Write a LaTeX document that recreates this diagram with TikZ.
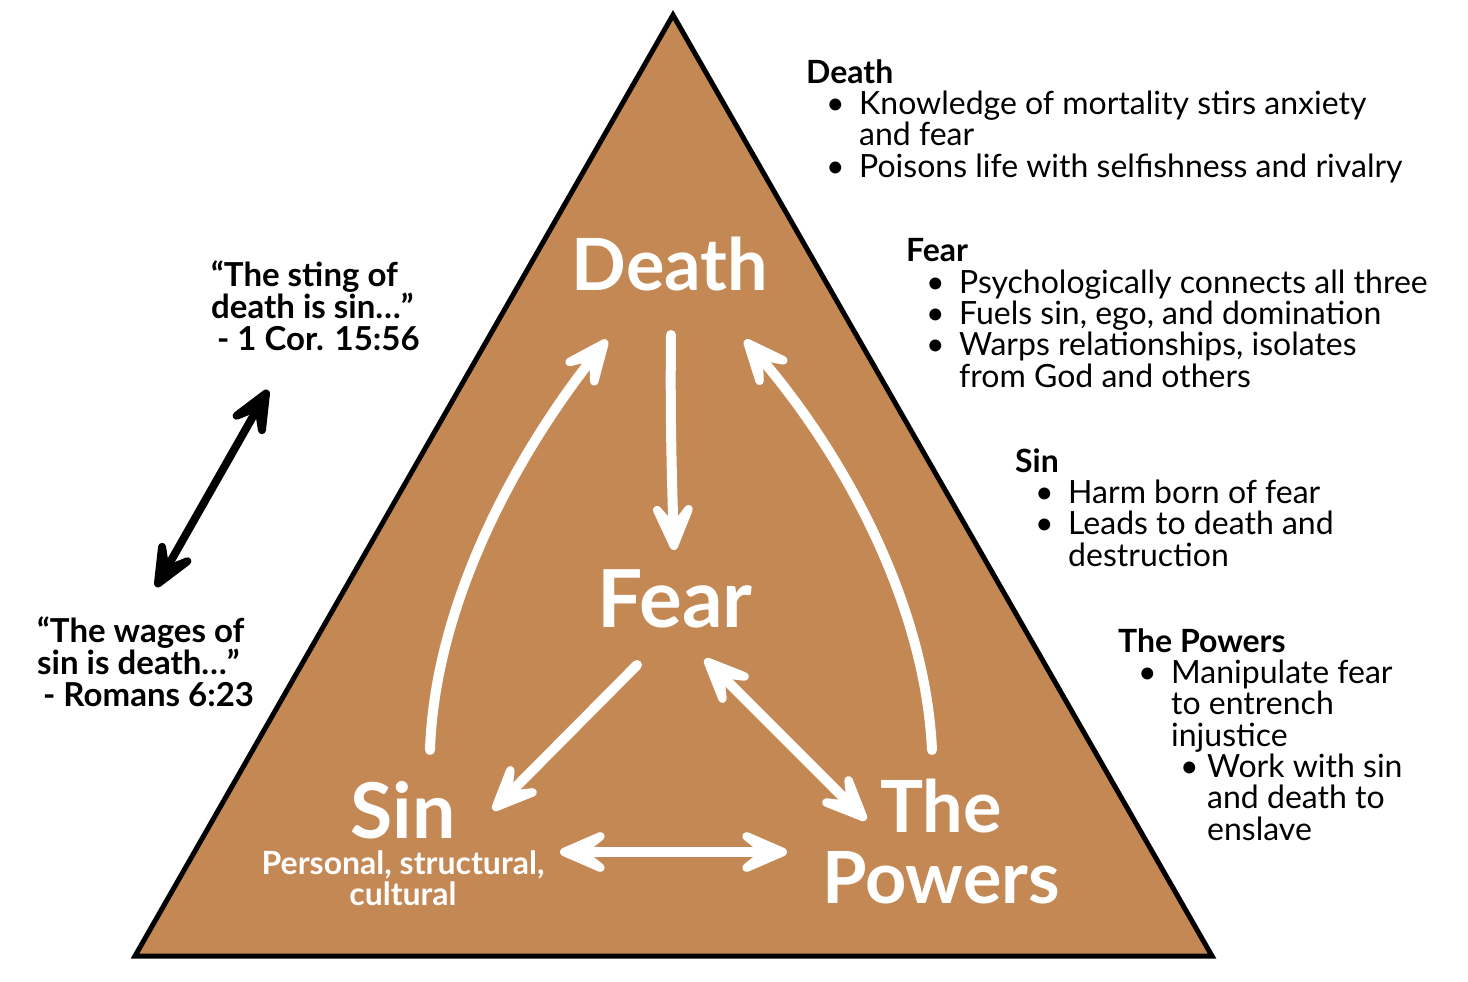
\documentclass[tikz,border=0pt]{standalone}
\usepackage{fontspec}
\setmainfont{Lato}
\usetikzlibrary{arrows.meta}
\definecolor{tri}{RGB}{196,136,84}
\newcommand\myb{\hspace*{20pt}\makebox[33pt][l]{•}}
\newcommand\myc{\hspace*{53pt}}
\newcommand\mysb{\hspace*{62pt}\makebox[27pt][l]{•}}
\newcommand\mysc{\hspace*{89pt}}
\begin{document}
\begin{tikzpicture}[x=1pt,y=-1pt,
  big/.style={font=\fontsize{72}{71}\selectfont\bfseries, text=white, inner sep=0, align=center, anchor=base},
  sub/.style={font=\fontsize{32}{30.5}\selectfont\bfseries, text=white, inner sep=0, align=center, anchor=base},
  info/.style={font=\fontsize{32}{31.3}\selectfont, anchor=base west, inner sep=0, align=left},
  quote/.style={font=\fontsize{33}{31.3}\selectfont\bfseries, anchor=base west, inner sep=0, align=left},
  warrow/.style={draw=white, line width=10pt, line cap=round,
    arrows={-Stealth[length=74pt,width=64pt,inset=40pt,round]}},
  wdouble/.style={draw=white, line width=10pt,
    arrows={Stealth[length=74pt,width=64pt,inset=40pt,round]-Stealth[length=74pt,width=64pt,inset=40pt,round]}},
  barrow/.style={draw=black, line width=8pt,
    arrows={Stealth[length=70pt,width=60pt,inset=38pt,round]-Stealth[length=70pt,width=60pt,inset=38pt,round]}}]
\useasboundingbox (0,0) rectangle (1468,982);
% triangle
\draw[fill=tri, line width=5pt, line join=miter] (673,15) -- (1212,956) -- (135,956) -- cycle;
% main labels
\node[big] (death) at (670,290) {Death};
\node[big, font=\fontsize{80}{80}\selectfont\bfseries] (fear) at (675,627) {Fear};
\node[big, font=\fontsize{77}{77}\selectfont\bfseries] (sin) at (403,838) {Sin};
\node[sub] (sinsub) at (403,905) {Personal, structural,\\cultural};
\node[big] (powers) at (941,903) {The\\Powers};
% arrow end points
\coordinate (d1) at (671,335);
\coordinate (f1) at (674,550);
\coordinate (s1) at (430,750);
\coordinate (d2) at (607,340);
\coordinate (p1) at (932,750);
\coordinate (d3) at (745,340);
\coordinate (f2) at (637,665);
\coordinate (s2) at (493,810);
\coordinate (f3) at (705,659);
\coordinate (p2) at (866,820);
\coordinate (s3) at (560,852);
\coordinate (p3) at (787,852);
\coordinate (q1) at (268,390);
\coordinate (q2) at (156,587);
% white arrows
\draw[warrow] (d1) .. controls (670,420) and (672,480) .. (f1);
\draw[warrow] (s1) .. controls (435,600) and (520,450) .. (d2);
\draw[warrow] (p1) .. controls (925,600) and (840,450) .. (d3);
\draw[warrow] (f2) -- (s2);
\draw[wdouble] (f3) -- (p2);
\draw[wdouble] (s3) -- (p3);
% black arrow
\draw[barrow] (q1) -- (q2);
% quotes
\node[quote] (quoteA) at (211,350) {“The sting of\\death is sin…”\\\hspace*{6pt}- 1 Cor. 15:56};
\node[quote] (quoteB) at (37,706) {“The wages of\\sin is death…”\\\hspace*{6pt}- Romans 6:23};
% info blocks
\node[info] (infoDeath) at (806,177) {\textbf{Death}\\
\myb Knowledge of mortality stirs anxiety\\
\myc and fear\\
\myb Poisons life with selfishness and rivalry};
\node[info] (infoFear) at (906,387) {\textbf{Fear}\\
\myb Psychologically connects all three\\
\myb Fuels sin, ego, and domination\\
\myb Warps relationships, isolates\\
\myc from God and others};
\node[info] (infoSin) at (1015,566) {\textbf{Sin}\\
\myb Harm born of fear\\
\myb Leads to death and\\
\myc destruction};
\node[info] (infoPowers) at (1118,840) {\textbf{The Powers}\\
\myb Manipulate fear\\
\myc to entrench\\
\myc injustice\\
\mysb Work with sin\\
\mysc and death to\\
\mysc enslave};
\end{tikzpicture}
\end{document}
